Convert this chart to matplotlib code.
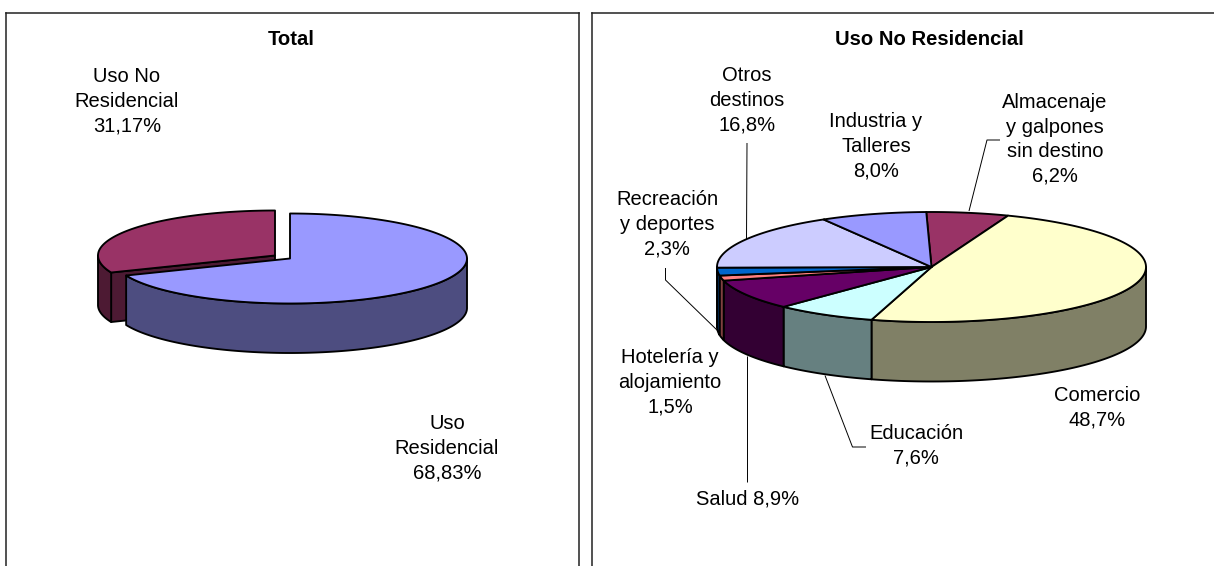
import numpy as np
import matplotlib
matplotlib.use("Agg")
import matplotlib.pyplot as plt

plt.rcParams['font.family'] = ['Liberation Sans', 'DejaVu Sans']

# ---- data ----
total_labels = ["Uso\nResidencial", "Uso No\nResidencial"]
total_values = [68.83, 31.17]
total_colors = ["#9999FF", "#993366"]
total_sides = ["#4D4D80", "#4D1A33"]

uso_labels = ["Almacenaje\ny galpones\nsin destino", "Comercio", "Educación", "Salud",
              "Hotelería y\nalojamiento", "Recreación\ny deportes", "Otros\ndestinos",
              "Industria y\nTalleres"]
uso_values = [6.2, 48.7, 7.6, 8.9, 1.5, 2.3, 16.8, 8.0]
uso_colors = ["#993366", "#FFFFCC", "#CCFFFF", "#660066", "#FF8080", "#0066CC", "#CCCCFF", "#9999FF"]
uso_sides = ["#4D1A33", "#808066", "#668080", "#330033", "#804040", "#003366", "#666680", "#4D4D80"]

W, H = 1214, 566
fig = plt.figure(figsize=(W / 100, H / 100), dpi=100, facecolor="white")


def panel(x0, x1, y0, spines):
    ax = fig.add_axes([x0 / W, 0, (x1 - x0) / W, (H - y0) / H])
    ax.set_xlim(x0, x1)
    ax.set_ylim(H, y0)
    ax.set_xticks([])
    ax.set_yticks([])
    for name, sp in ax.spines.items():
        sp.set_visible(name in spines)
        sp.set_linewidth(1.1)
        sp.set_color("#222222")
    return ax


def arc(cx, cy, a, b, t0, t1, n=160):
    t = np.radians(np.linspace(t0, t1, n))
    return cx + a * np.sin(t), cy - b * np.cos(t)


EDGE = dict(edgecolor="black", linewidth=1.35, joinstyle="round", closed=True)


def top(ax, cx, cy, a, b, t0, t1, color):
    x, y = arc(cx, cy, a, b, t0, t1)
    ax.fill(np.r_[cx, x], np.r_[cy, y], facecolor=color, **EDGE)


def side(ax, cx, cy, a, b, d, t0, t1, color):
    lo, hi = max(t0, 90), min(t1, 270)
    if hi <= lo:
        return
    x, y = arc(cx, cy, a, b, lo, hi)
    ax.fill(np.r_[x, x[::-1]], np.r_[y, y[::-1] + d], facecolor=color, **EDGE)


def cut(ax, cx, cy, a, b, d, t, color):
    x, y = arc(cx, cy, a, b, t, t, 1)
    ax.fill([cx, x[0], x[0], cx], [cy, y[0], y[0] + d, cy + d], facecolor=color, **EDGE)


def label(ax, x, y, s, **kw):
    ax.text(x, y, s, ha="center", va="center", fontsize=14.5, linespacing=1.37,
            color="black", **kw)


def leader(ax, xs, ys):
    ax.plot(xs, ys, color="black", lw=0.7, solid_capstyle="butt")


# ---- left panel ----
axL = panel(6, 579, 13, ("top", "left", "right"))
axL.text(291, 39, "Total", ha="center", va="center", fontsize=14.6, fontweight="bold")
bounds = np.r_[0, np.cumsum(total_values)] * 3.6
a, b, d = 177, 45, 49.5
cxB, cyB = 290, 258.5
cxR, cyR = 275, 255.5
cut(axL, cxR, cyR, a, b, d, bounds[1], total_sides[1])
side(axL, cxR, cyR, a, b, d, bounds[1], bounds[2], total_sides[1])
top(axL, cxR, cyR, a, b, bounds[1], bounds[2], total_colors[1])
side(axL, cxB, cyB, a, b, d, bounds[0], bounds[1], total_sides[0])
top(axL, cxB, cyB, a, b, bounds[0], bounds[1], total_colors[0])


def pct(v, n):
    return f"{v:.{n}f}".replace(".", ",") + "%"


label(axL, 447, 448, f"{total_labels[0]}\n{pct(total_values[0], 2)}")
label(axL, 127, 101, f"{total_labels[1]}\n{pct(total_values[1], 2)}")

# ---- right panel ----
axR = panel(592, W + 5, 13, ("top", "left"))
axR.text(929, 39, "Uso No Residencial", ha="center", va="center", fontsize=14.6, fontweight="bold")
start = -1.4
bu = start + np.r_[0, np.cumsum(uso_values)] * 3.6
a, b, d = 214.5, 55, 59.5
cx, cy = 931.5, 267

leader(axR, [747, 746.5], [143, 240])
leader(axR, [1000, 987, 969], [140, 140, 211])
for i in range(len(uso_values)):
    side(axR, cx, cy, a, b, d, bu[i], bu[i + 1], uso_sides[i])
for i in range(len(uso_values)):
    top(axR, cx, cy, a, b, bu[i], bu[i + 1], uso_colors[i])
leader(axR, [665.5, 665.5, 719], [268, 280, 332])
leader(axR, [825, 852.5, 866], [375.5, 447, 447])
leader(axR, [747, 747], [356, 482])

positions = [(1055, 139.5), (1097, 408), (916, 446), (748, 499),
             (670, 382), (667, 224), (747, 100), (876, 146)]
for name, v, (x, y) in zip(uso_labels, uso_values, positions):
    sep = " " if name == "Salud" else "\n"
    label(axR, x, y, f"{name}{sep}{pct(v, 1)}")

fig.savefig("out.png", dpi=100, facecolor="white")
